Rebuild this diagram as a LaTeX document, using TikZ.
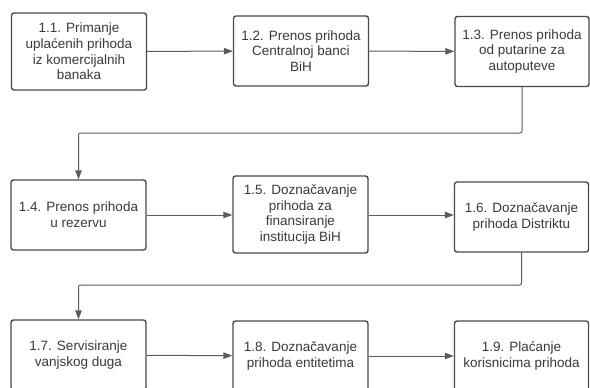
\documentclass[tikz,border=0pt]{standalone}
\usepackage{fontspec}
\setmainfont{Liberation Sans}
\usepackage{xcolor}
\usepackage{tikz}
\usetikzlibrary{shapes,arrows,positioning,calc,arrows.meta}
\definecolor{boxgray}{HTML}{4A4A4A}
\definecolor{txtgray}{HTML}{3A3A3A}
\tikzset{
    stage/.style={draw=boxgray, line width=1.4pt, rounded corners=2.5pt, fill=white,
        minimum width=135pt, minimum height=70pt, align=center, text=txtgray,
        font=\fontsize{13.5}{15.7}\selectfont, inner sep=1pt},
    flow/.style={draw=boxgray!90, line width=1pt, -{Triangle[length=9pt,width=6.5pt]}}
}

\begin{document}
\begin{tikzpicture}[x=1pt,y=-1pt]
    \useasboundingbox (0,0) rectangle (590,388);
    \clip (0,0) rectangle (590,388);

    % prvi red
    \node[stage, minimum height=77pt] (s11) at (79,51.5) {1.1. Primanje\\ uplaćenih prihoda\\ iz komercijalnih\\ banaka};
    \node[stage] (s12) at (301,51) {1.2. Prenos prihoda\\ Centralnoj banci\\ BiH};
    \node[stage, minimum width=134pt] (s13) at (522,51.5) {1.3. Prenos prihoda\\ od putarine za\\ autoputeve};

    % drugi red
    \node[stage] (s14) at (78.5,215) {1.4. Prenos prihoda\\ u rezervu};
    \node[stage, minimum height=77pt] (s15) at (300.5,214.5) {1.5. Doznačavanje\\ prihoda za\\ finansiranje\\ institucija BiH};
    \node[stage, minimum width=134pt] (s16) at (521.5,217) {1.6. Doznačavanje\\ prihoda Distriktu};

    % treci red (odsjecen na dnu)
    \node[stage] (s17) at (78.5,355) {1.7. Servisiranje\\ vanjskog duga};
    \node[stage] (s18) at (300.5,356) {1.8. Doznačavanje\\ prihoda entitetima};
    \node[stage, minimum width=134pt] (s19) at (521.5,356) {1.9. Plaćanje\\ korisnicima prihoda};

    % prelomne tacke
    \coordinate (k1) at (s14.north |- 0,133);
    \coordinate (k2) at (s17.north |- 0,285);
    \coordinate (r2) at (0,215);

    % veze
    \draw[flow] (s11) -- (s12);
    \draw[flow] (s12) -- (s13);
    \draw[flow, rounded corners=2pt] (s13.south) |- (k1) -- (s14.north);
    \draw[flow] (s14.east |- r2) -- (s15.west |- r2);
    \draw[flow] (s15.east |- r2) -- (s16.west |- r2);
    \draw[flow, rounded corners=2pt] (s16.south) |- (k2) -- (s17.north);
    \draw[flow] (s17) -- (s18);
    \draw[flow] (s18) -- (s19);
\end{tikzpicture}
\end{document}
